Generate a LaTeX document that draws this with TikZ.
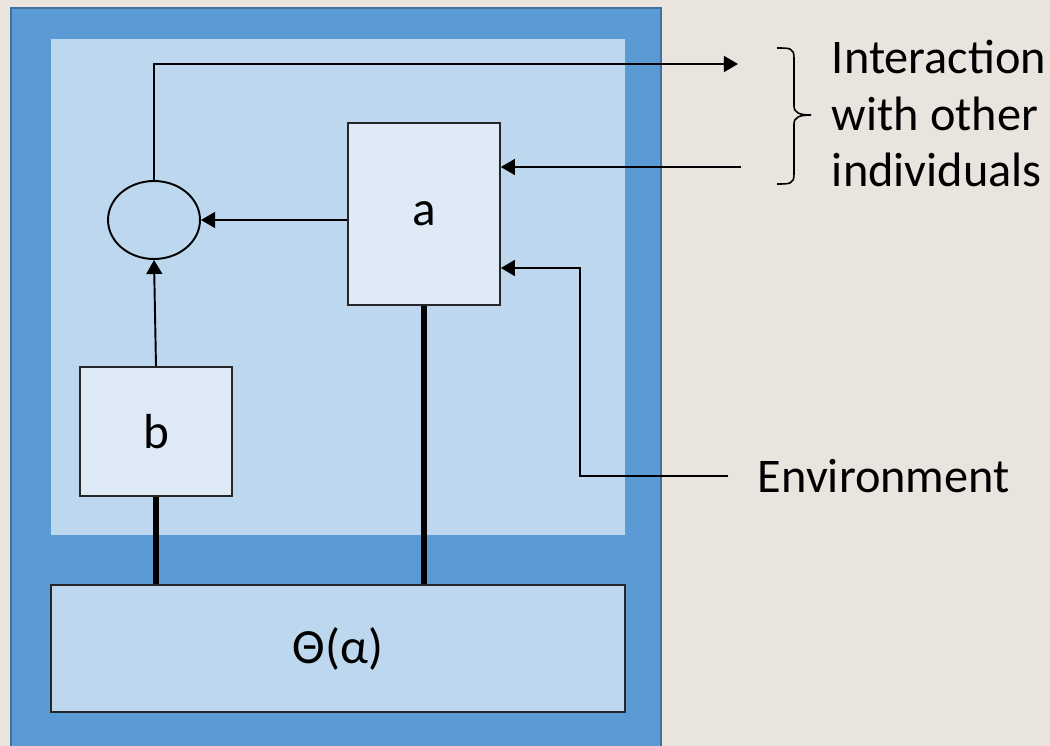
\documentclass[tikz,border=0pt]{standalone}
\usepackage{fontspec}
\setmainfont{Carlito}
\usetikzlibrary{arrows.meta,shapes.geometric}
\definecolor{paper}{HTML}{E9E5DE}
\definecolor{outerblue}{HTML}{5B9BD5}
\definecolor{outeredge}{HTML}{41719C}
\definecolor{innerblue}{HTML}{BDD7EE}
\definecolor{unitfill}{HTML}{DEEBF7}
\tikzset{
  unit/.style={draw=black!85, fill=unitfill, line width=0.9pt, inner sep=0pt,
    font=\fontsize{28}{32}\selectfont},
  link/.style={line width=3.4pt},
  label/.style={inner sep=0pt, align=left, font=\fontsize{27.5}{32.3}\selectfont}
}
\begin{document}
\begin{tikzpicture}[x=0.02cm, y=-0.02cm, line width=1.1pt,
    >={Triangle[length=8pt,width=9pt]}]
    \fill[paper] (0,0) rectangle (1050,746);
    \useasboundingbox (0,0) rectangle (1050,746);

    % individual
    \draw[fill=outerblue, draw=outeredge, line width=1.4pt] (11,8) rectangle (661,760);
    \fill[innerblue] (51,39) rectangle (625,535);

    \node[unit, minimum width=3.04cm, minimum height=3.64cm] (a) at (424,214) {a};
    \node[unit, minimum width=3.04cm, minimum height=2.58cm] (b) at (156,431.5) {b};
    \node[unit, fill=innerblue, minimum width=11.48cm, minimum height=2.54cm] (theta) at (338,648.5) {Θ(α)};
    \node[ellipse, draw, inner sep=0pt, minimum width=1.84cm, minimum height=1.56cm] (circ) at (154,220) {};

    \coordinate (out) at (738,64);
    \coordinate (in) at (741,167);
    \coordinate (env) at (728,476);
    \coordinate (envbend) at (580,268);

    \draw[->] (circ.north) |- (out);
    \draw[->] (in) -- (in -| a.east);
    \draw[->] (a.west |- circ) -- (circ.east);
    \draw[->] (b.north) -- (circ.south);
    \draw[->] (env) -| (envbend) -- (envbend -| a.east);

    \draw[link] (b.south) -- (b.south |- theta.north);
    \draw[link] (a.south) -- (a.south |- theta.north);

    % outside
    \draw[line width=0.9pt] (777,48) .. controls (790,48) and (794,48) .. (794,58) -- (794,106)
      .. controls (794,113) and (800,115) .. (811,115)
      .. controls (800,115) and (794,117) .. (794,124) -- (794,174)
      .. controls (794,184) and (790,184) .. (777,184);
    \node[label, anchor=north west] (inter) at (831,39) {Interaction\\with other\\individuals};
    \node[label, anchor=west] (envlabel) at (757,476) {Environment};
\end{tikzpicture}
\end{document}
